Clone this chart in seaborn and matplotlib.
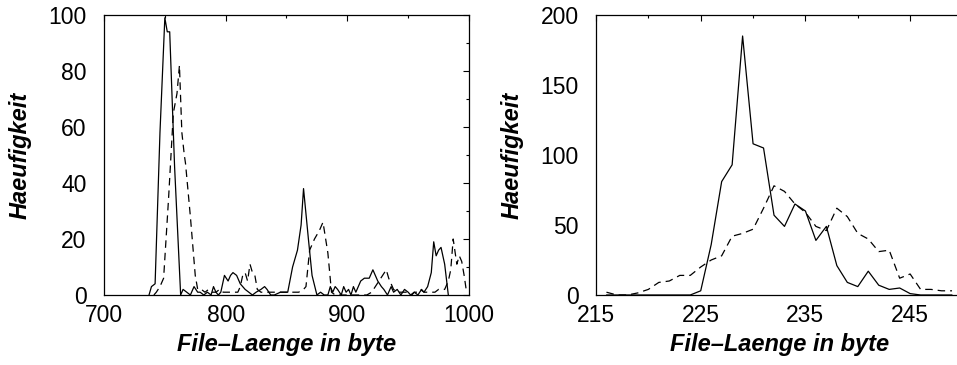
import pandas as pd
import matplotlib.pyplot as plt
import seaborn as sns
from matplotlib.ticker import MultipleLocator, FixedLocator


# 1- data (left: 700..1000 byte, right: 215..250 byte)
left_solid_x = [737, 739, 742, 746, 750, 752, 754, 758, 763, 765, 768, 771, 774, 777, 779,
                782, 785, 788, 790, 792, 794, 796, 799, 802, 804, 806, 809, 812, 816, 819,
                822, 825, 829, 832, 834, 837, 840, 845, 848, 851, 855, 859, 862, 864, 868,
                871, 875, 878, 881, 884, 886, 888, 890, 892, 895, 897, 899, 901, 903, 905,
                907, 909, 911, 914, 918, 921, 925, 928, 930, 933, 936, 938, 941, 944, 947,
                950, 952, 955, 958, 961, 963, 966, 969, 971, 973, 975, 977, 980, 983]
left_solid_y = [0, 3, 4, 58, 99, 94, 94, 46, 0, 2, 1, 0, 3, 1, 1,
                0, 1, 0, 3, 1, 0, 1, 7, 5, 7, 8, 7, 4, 2, 1,
                0, 1, 2, 3, 2, 0, 0, 1, 1, 1, 10, 16, 25, 38, 20,
                7, 0, 1, 0, 0, 3, 1, 3, 2, 0, 3, 1, 2, 0, 3,
                1, 3, 5, 6, 6, 9, 5, 3, 2, 0, 3, 1, 2, 0, 2,
                1, 0, 1, 0, 2, 1, 3, 8, 19, 14, 16, 17, 11, 0]

left_dashed_x = [741, 743, 746, 749, 753, 757, 760, 762, 764, 766, 767, 771, 775, 777, 780,
                 783, 786, 789, 792, 795, 798, 801, 804, 807, 810, 812, 814, 816, 818, 820,
                 822, 824, 826, 829, 832, 836, 840, 844, 848, 852, 856, 860, 864, 866, 869,
                 873, 877, 880, 884, 887, 890, 895, 900, 905, 910, 916, 920, 923, 926, 929,
                 932, 934, 936, 938, 941, 944, 947, 950, 953, 955, 958, 960, 963, 966, 969,
                 972, 975, 977, 980, 983, 985, 987, 990, 992, 994, 996, 998]
left_dashed_y = [0, 1, 3, 6, 34, 65, 72, 82, 58, 50, 47, 28, 7, 2, 2,
                 1, 2, 1, 1, 2, 1, 1, 1, 1, 1, 3, 7, 8, 5, 11,
                 8, 7, 2, 1, 1, 1, 1, 1, 1, 1, 1, 1, 2, 3, 16,
                 20, 23, 26, 15, 1, 0, 0, 0, 0, 0, 0, 1, 3, 5, 7,
                 9, 6, 4, 2, 1, 1, 1, 1, 0, 1, 1, 2, 1, 1, 1,
                 1, 2, 2, 2, 5, 9, 20, 11, 14, 12, 7, 1]

right_x = list(range(216, 250))
right_solid_y = [0, 0, 0, 0, 0, 0, 0, 0, 0, 3, 36, 81, 93, 185, 108, 105, 57,
                 49, 65, 60, 39, 49, 21, 9, 6, 17, 7, 4, 5, 1, 0, 0, 0, 0]
right_dashed_y = [2, 0, 0, 1.5, 4, 9, 10, 14, 14, 20, 25, 28, 42, 44, 47, 62, 78,
                  74, 65, 59, 49, 46, 62, 56, 44, 40, 31, 32, 12, 15, 4, 4, 3, 3]
right_xticks = [215, 225, 235, 245]

df_left_solid = pd.DataFrame({"laenge": left_solid_x, "anzahl": left_solid_y})
df_left_dashed = pd.DataFrame({"laenge": left_dashed_x, "anzahl": left_dashed_y})
df_right = pd.DataFrame({"laenge": right_x, "solid": right_solid_y, "dashed": right_dashed_y})

# 2- style
sns.set_style("white")
plt.rcParams['font.family'] = ['Liberation Sans', 'DejaVu Sans']
plt.rcParams['axes.linewidth'] = 0.9
plt.rcParams['text.color'] = 'black'
plt.rcParams['axes.labelcolor'] = 'black'

fig = plt.figure(figsize=(9.57, 3.65), dpi=100)
ax1 = fig.add_axes([104 / 957, 70 / 365, 365 / 957, 280 / 365])
ax2 = fig.add_axes([596 / 957, 70 / 365, 366.5 / 957, 280 / 365])

dash = (0, (6, 4))

# 3- left plot
sns.lineplot(data=df_left_solid, x="laenge", y="anzahl", ax=ax1, color="black", lw=0.9)
sns.lineplot(data=df_left_dashed, x="laenge", y="anzahl", ax=ax1, color="black", lw=0.9,
             linestyle=dash)
ax1.set_xlim(700, 1000)
ax1.set_ylim(0, 100)
ax1.xaxis.set_major_locator(MultipleLocator(100))
ax1.xaxis.set_minor_locator(MultipleLocator(50))
ax1.yaxis.set_major_locator(MultipleLocator(20))
ax1.yaxis.set_minor_locator(MultipleLocator(10))
ax1.tick_params(which="both", right=True)

# 4- right plot
sns.lineplot(data=df_right, x="laenge", y="solid", ax=ax2, color="black", lw=0.9)
sns.lineplot(data=df_right, x="laenge", y="dashed", ax=ax2, color="black", lw=0.9,
             linestyle=dash)
ax2.set_xlim(215, 250)
ax2.set_ylim(0, 200)
ax2.xaxis.set_major_locator(FixedLocator(right_xticks))
ax2.xaxis.set_minor_locator(MultipleLocator(5))
ax2.yaxis.set_major_locator(MultipleLocator(50))
ax2.yaxis.set_minor_locator(MultipleLocator(25))
ax2.tick_params(which="both", right=False)

for ax in (ax1, ax2):
    for sp in ax.spines.values():
        sp.set_color("black")
    ax.tick_params(which="both", direction="in", top=True, colors="black",
                   labelsize=16.5, width=0.8)
    ax.tick_params(which="major", length=4)
    ax.tick_params(which="minor", length=2.5)
    ax.tick_params(axis="y", pad=12.5)
    ax.tick_params(axis="x", pad=6.5)
    ax.set_xlabel("File\u2013Laenge in byte", fontsize=17, fontweight="bold",
                  fontstyle="italic", labelpad=4)
    ax.set_ylabel("Haeufigkeit", fontsize=17, fontweight="bold", fontstyle="italic",
                  labelpad=12)

plt.savefig("out.png", dpi=100)
